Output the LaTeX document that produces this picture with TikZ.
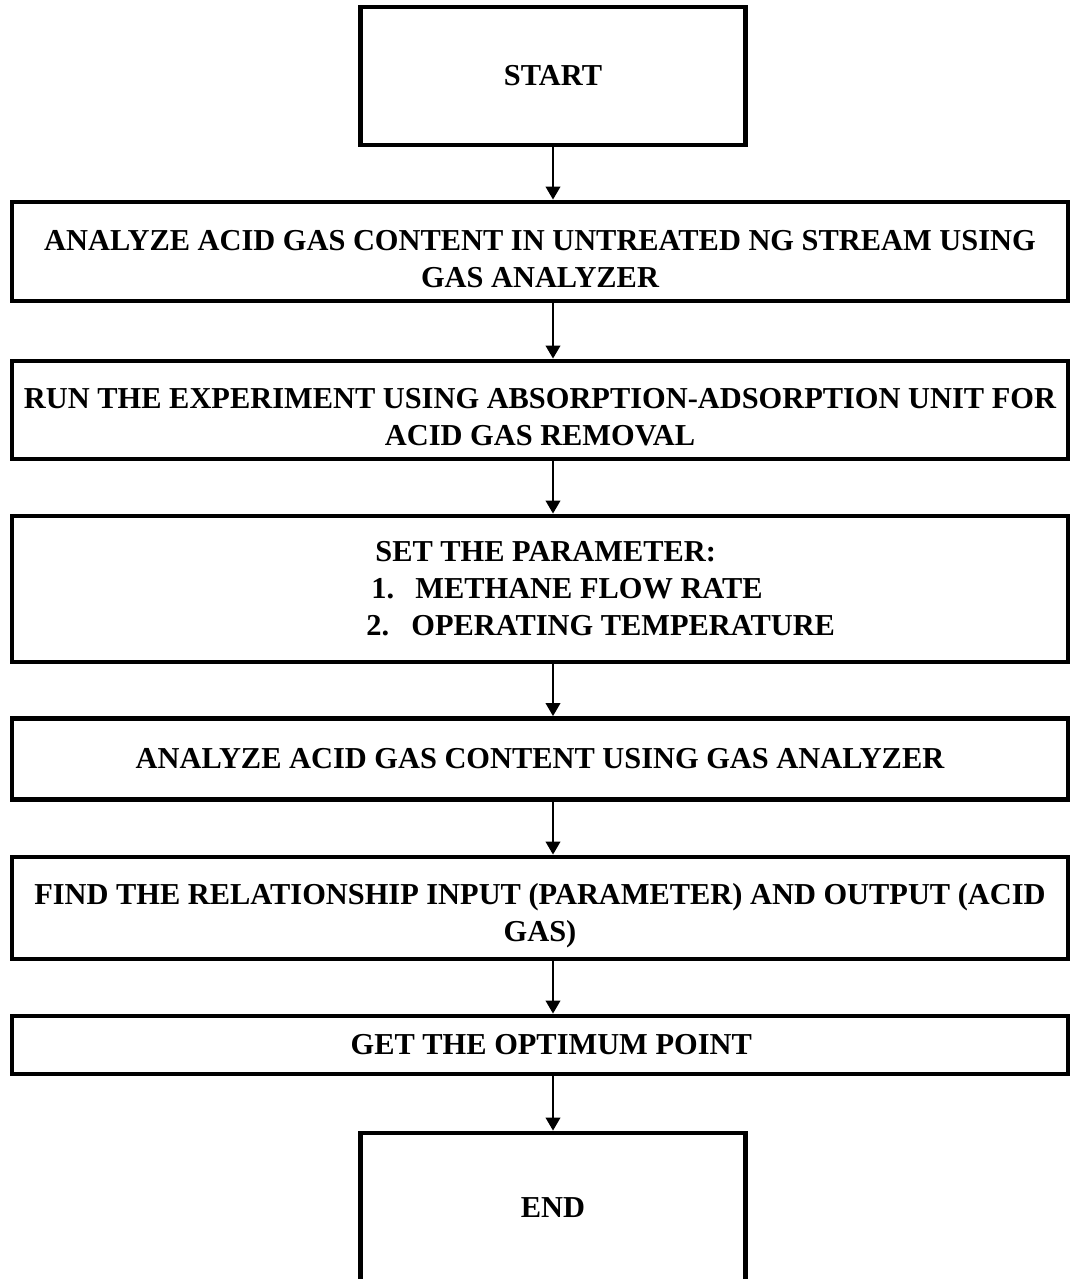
\documentclass[tikz,border=0pt]{standalone}
\usepackage{fontspec}
\setmainfont{Liberation Serif}
\usepackage{tikz}
\usetikzlibrary{arrows.meta, positioning, calc}

\begin{document}
\begin{tikzpicture}[
      font=\fontsize{17.3}{21}\selectfont\bfseries,
      stepbox/.style={draw, line width=2.8pt, minimum width=21.12cm,
                      minimum height=#1, align=center, inner sep=0pt},
      steptext/.style={align=center, inner sep=0pt},
      endbox/.style={draw, line width=2.8pt, minimum width=7.7cm,
                     minimum height=#1, align=center},
      flow/.style={-{Triangle[length=7.4pt, width=8.4pt]}, line width=0.9pt}
    ]
    \useasboundingbox (0,0) rectangle (21.44,-25.58);
    \clip (0,0) rectangle (21.44,-25.58);

    % terminals
    \node[endbox=2.76cm] (start) at (11.06,-1.52) {START};
    \node[endbox=3.0cm]  (end)   at (11.06,-24.16) {END};

    % process steps (two-line texts sit a little low in their boxes)
    \node[stepbox=1.98cm] (analyze) at (10.80,-5.03) {};
    \node[steptext] (analyzetext) at ([yshift=-0.15cm]analyze.center)
      {ANALYZE ACID GAS CONTENT IN UNTREATED NG STREAM USING\\GAS ANALYZER};
    \node[stepbox=1.96cm] (run) at (10.80,-8.20) {};
    \node[steptext] (runtext) at ([yshift=-0.15cm]run.center)
      {RUN THE EXPERIMENT USING ABSORPTION-ADSORPTION UNIT FOR\\ACID GAS REMOVAL};
    \node[stepbox=2.92cm] (param) at (10.80,-11.78) {};
    \node[anchor=west, align=left, inner sep=0pt] (paramtext) at (7.32,-11.78)
      {\hspace*{0.18cm}SET THE PARAMETER:\\
       \hspace*{0.10cm}\makebox[0.88cm][l]{1.}METHANE FLOW RATE\\
       \makebox[0.90cm][l]{2.}OPERATING TEMPERATURE};
    \node[stepbox=1.62cm] (measure) at (10.80,-15.18)
      {ANALYZE ACID GAS CONTENT USING GAS ANALYZER};
    \node[stepbox=2.04cm] (relation) at (10.80,-18.16) {};
    \node[steptext] (relationtext) at ([yshift=-0.16cm]relation.center)
      {FIND THE RELATIONSHIP INPUT (PARAMETER) AND OUTPUT (ACID\\GAS)};
    \node[stepbox=1.16cm] (optimum) at (10.80,-20.90)
      {\hspace*{0.45cm}GET THE OPTIMUM POINT};

    % connectors, all on the terminals' axis
    \draw[flow] (start.south) -- (start |- analyze.north);
    \draw[flow] (start |- analyze.south) -- (start |- run.north);
    \draw[flow] (start |- run.south) -- (start |- param.north);
    \draw[flow] (start |- param.south) -- (start |- measure.north);
    \draw[flow] (start |- measure.south) -- (start |- relation.north);
    \draw[flow] (start |- relation.south) -- (start |- optimum.north);
    \draw[flow] (start |- optimum.south) -- (end.north);
  \end{tikzpicture}
\end{document}
